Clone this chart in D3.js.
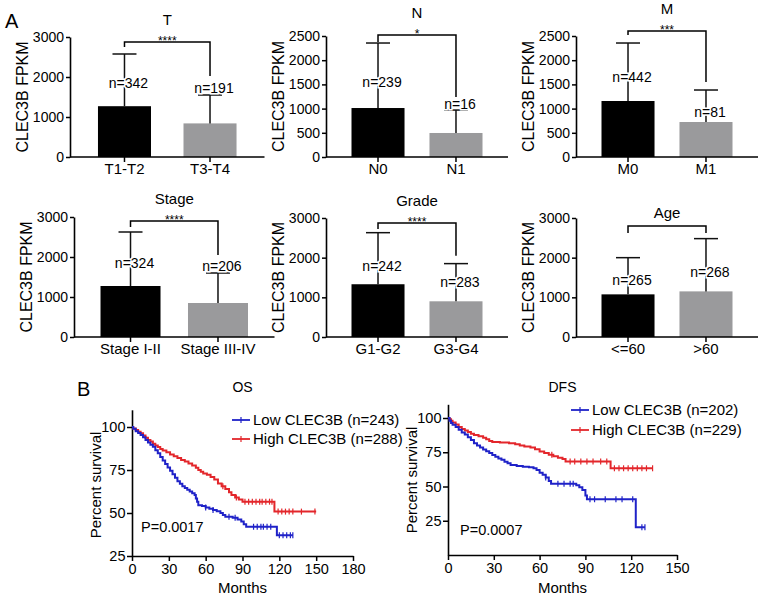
<!DOCTYPE html>
<html><head><meta charset="utf-8">
<script src="https://cdn.jsdelivr.net/npm/d3@7"></script>
<style>
body{margin:0;background:#fff}
svg{display:block}
text{font-family:"Liberation Sans",Arial,Helvetica,sans-serif;fill:#000}
</style>
</head><body>
<svg id="c" width="765" height="598"></svg>
<script>
// ---------- Panel A data ----------
const panelTitles = ["T","N","M","Stage","Grade","Age"];
const barCategories = [["T1-T2","T3-T4"],["N0","N1"],["M0","M1"],["Stage I-II","Stage III-IV"],["G1-G2","G3-G4"],["<=60",">60"]];
const barMeans = [[1270,840],[1012,496],[1157,723],[1275,850],[1330,900],[1075,1150]];
const barErrTops = [[2575,1550],[2355,970],[2355,1384],[2625,1600],[2630,1850],[2000,2480]];
const groupN = [[342,191],[239,16],[442,81],[324,206],[242,283],[265,268]];
const sigLabels = ["****","*","***","****","****",""];
const yMaxes = [3000,2500,2500,3000,3000,3000];
const yTickSteps = [1000,500,500,1000,1000,1000];
// bracket: [bar level, left end, right end] in FPKM units
const bracketLevels = [[2875,2750,2025],[2520,2376,1240],[2603,2520,1550],[2900,2750,2050],[2875,2725,2050],[2800,2625,2625]];

// ---------- Panel B data (Kaplan-Meier steps: [month, percent]) ----------
const osLow = [[0,100],[1,99],[3,97.5],[5,96.5],[7,95.3],[9,94],[11,92.5],[13,91],[15,89.7],[17,88.5],[19,86.5],[21,84.7],[23,82.5],[25,80.5],[27,78.5],[29,76.5],[31,74.5],[33,72.5],[35,70.5],[37,68.5],[39,67],[41,65.5],[43,64.5],[45,63.5],[47,62.5],[49,61.5],[51,60.5],[52,58.5],[53,56.5],[54,54.5],[57,54],[60,53.2],[63,52.5],[66,51.8],[69,51],[72,50],[74,48.8],[76,47.8],[82,47.2],[86,46.2],[89,45],[91,43.5],[93,42],[118,37],[131,37]];
const osHigh = [[0,100],[1,99.2],[3,98.3],[5,97.2],[7,96.3],[9,95],[11,93.8],[13,92.5],[15,91.5],[17,90.3],[19,89.3],[21,88.3],[23,87.2],[25,86.3],[28,85.3],[31,84],[34,83],[37,82],[40,80.8],[43,80],[46,78.8],[49,77.6],[52,76.3],[54,75],[56,74],[58,73],[61,72.3],[64,71],[67,69.5],[70,67.2],[73,65.5],[76,64],[79,62],[81,60.5],[84,59],[87,57.8],[90,56.6],[116,50.8],[150,50.8]];
const osLowCensor = [60,66,79,84,99,102,105,107,110,113,120,123,126,129,131];
const osHighCensor = [74,85,92,95,98,101,104,106,109,112,114,119,122,125,128,131,138,149];
const dfsLow = [[0,100],[1,98],[2,96.3],[3,95],[5,93.5],[7,91.5],[9,89.5],[11,88],[13,86],[15,84],[17,81.5],[19,80],[21,78.5],[23,77],[25,75.8],[27,74.5],[29,73],[31,71.8],[33,70.5],[35,69.5],[37,68],[39,67],[41,65.7],[45,65],[49,64.5],[53,64],[56,63.3],[58,62],[60,60],[62,58.5],[64,56.5],[66,54],[67.5,52],[84,51],[86,49.5],[88,47.5],[90,43.5],[91,40.7],[123,20.3],[129,20.3]];
const dfsHigh = [[0,100],[1,99],[2,98],[3,96.8],[5,95.2],[7,93.5],[9,92],[11,90.8],[13,89.8],[15,88.5],[17,87.6],[20,86.6],[23,85.5],[25,84.4],[27,83.2],[29,82.5],[34,82.2],[40,81.6],[44,80.8],[47,80],[50,79.2],[54,78.4],[57,77.2],[60,75.5],[63,74.5],[66,73.2],[69,72],[72,71],[75,70],[77,68.2],[106.5,63.3],[134,63.3]];
const dfsLowCensor = [64,72,76,80,82,93,96,103,110,114,121,127,129];
const dfsHighCensor = [68,80,83,87,91,95,100,104,109,112,115,118,121,124,127,130,134];
const osLegend = ["Low CLEC3B (n=243)","High CLEC3B (n=288)"];
const dfsLegend = ["Low CLEC3B (n=202)","High CLEC3B (n=229)"];
const osXTicks = [0,30,60,90,120,150,180];
const dfsXTicks = [0,30,60,90,120,150];
const survYTicks = [25,50,75,100];

// ---------- layout ----------
const svg = d3.select("#c");
const FONT = '"Liberation Sans",Arial,Helvetica,sans-serif';
const BLUE = "#1f22c8", RED = "#e3262b";
const barLayout = [
  {ax:70,  w:194.5, top:37,  bot:157, pi:0.38,  po:0.327, nY:[83,88]},
  {ax:326, w:182,   top:36,  bot:157, pi:0.32,  po:0.327, nY:[82,104]},
  {ax:576, w:182,   top:36,  bot:157, pi:0.32,  po:0.327, nY:[77,112]},
  {ax:74,  w:200.5, top:217, bot:337, pi:0.314, po:0.303, nY:[263,266]},
  {ax:326, w:182,   top:218, bot:337, pi:0.32,  po:0.327, nY:[266,282]},
  {ax:576, w:182,   top:218, bot:337, pi:0.32,  po:0.327, nY:[280,272]}
];

function styleAxis(g, fs){
  g.attr("font-family", FONT).attr("font-size", fs);
  g.selectAll(".domain").attr("stroke","#000").attr("stroke-width",1.6);
  g.selectAll(".tick line").attr("stroke","#000").attr("stroke-width",1.5);
  g.selectAll(".tick text").attr("fill","#000");
}

barLayout.forEach((L,i) => {
  const g = svg.append("g");
  const x = d3.scaleBand().domain(barCategories[i]).range([L.ax, L.ax+L.w]).paddingInner(L.pi).paddingOuter(L.po);
  const y = d3.scaleLinear().domain([0, yMaxes[i]]).range([L.bot, L.top]);
  const bw = x.bandwidth();
  const cx = c => x(c) + bw/2;

  // bars
  g.selectAll("rect.bar").data(barCategories[i]).join("rect")
    .attr("x", c => x(c)).attr("width", bw)
    .attr("y", (c,j) => y(barMeans[i][j]))
    .attr("height", (c,j) => L.bot - y(barMeans[i][j]))
    .attr("fill", (c,j) => j === 0 ? "#000" : "#9a9a9c");
  // error bars
  barCategories[i].forEach((c,j) => {
    g.append("line").attr("x1", cx(c)).attr("x2", cx(c))
      .attr("y1", y(barMeans[i][j])).attr("y2", y(barErrTops[i][j]))
      .attr("stroke", "#111").attr("stroke-width", 1.5);
    g.append("line").attr("x1", cx(c)-12).attr("x2", cx(c)+12)
      .attr("y1", y(barErrTops[i][j])).attr("y2", y(barErrTops[i][j]))
      .attr("stroke", "#111").attr("stroke-width", 1.5);
  });
  // axes
  const ya = d3.axisLeft(y).tickValues(d3.range(0, yMaxes[i]+1, yTickSteps[i])).tickFormat(d3.format("d"))
    .tickSize(4).tickSizeOuter(0).tickPadding(2);
  styleAxis(g.append("g").attr("transform", `translate(${L.ax},0)`).call(ya), 14);
  const xa = d3.axisBottom(x).tickSize(5).tickSizeOuter(0).tickPadding(1.5);
  const xg = g.append("g").attr("transform", `translate(0,${L.bot})`).call(xa);
  styleAxis(xg, 15);
  xg.select(".domain").attr("d", `M${L.ax},0H${L.ax+L.w}`);

  // n labels
  barCategories[i].forEach((c,j) => {
    g.append("text").attr("x", cx(c)+4).attr("y", L.nY[j]+5)
      .attr("text-anchor","middle").attr("font-size",14)
      .attr("stroke","#fff").attr("stroke-width",3).attr("paint-order","stroke")
      .text("n=" + groupN[i][j]);
  });
  // bracket
  const b = bracketLevels[i];
  const xl = cx(barCategories[i][0]), xr = cx(barCategories[i][1]);
  g.append("path").attr("d", `M${xl},${y(b[1])}V${y(b[0])}H${xr}V${y(b[2])}`)
    .attr("fill","none").attr("stroke","#000").attr("stroke-width",1.5);
  if (sigLabels[i]) {
    g.append("text").attr("x", (xl+xr)/2).attr("y", y(b[0]) + 3)
      .attr("text-anchor","middle").attr("font-size",12).text(sigLabels[i]);
  }
  // title
  const ty = y(b[0]) - (sigLabels[i] ? 22 : 13);
  g.append("text").attr("x", (xl+xr)/2).attr("y", ty + 5)
    .attr("text-anchor","middle").attr("font-size",15).text(panelTitles[i]);
  // y label
  const my = (L.top + L.bot)/2;
  g.append("text").attr("transform", `translate(${L.ax-48},${my}) rotate(-90)`)
    .attr("dy","0.35em").attr("text-anchor","middle").attr("font-size",16).text("CLEC3B FPKM");
});

// panel letters
svg.append("text").attr("x",5).attr("y",28).attr("font-size",20).text("A");
svg.append("text").attr("x",77).attr("y",396).attr("font-size",20).text("B");

// ---------- KM plots ----------
function stepValue(curve, t){
  let v = curve[0][1];
  for (const p of curve) { if (p[0] <= t) v = p[1]; else break; }
  return v;
}
function kmPanel(opt){
  const g = svg.append("g");
  const x = d3.scaleLinear().domain(opt.xDom).range(opt.xRange);
  const y = d3.scaleLinear().domain(opt.yDom).range(opt.yRange);
  const xa = d3.axisBottom(x).tickValues(opt.xTicks).tickSize(5).tickSizeOuter(0).tickPadding(3);
  styleAxis(g.append("g").attr("transform",`translate(0,${opt.yRange[0]})`).call(xa), 14.5);
  const ya = d3.axisLeft(y).tickValues(survYTicks).tickSize(5).tickSizeOuter(0).tickPadding(1.5);
  styleAxis(g.append("g").attr("transform",`translate(${opt.xRange[0]},0)`).call(ya), 14.5);

  const line = d3.line().x(d => x(d[0])).y(d => y(d[1])).curve(d3.curveStepAfter);
  const series = [[opt.high, opt.highC, RED],[opt.low, opt.lowC, BLUE]];
  series.forEach(([curve, cens, col]) => {
    g.append("path").attr("d", line(curve)).attr("fill","none")
      .attr("stroke", col).attr("stroke-width", 2);
    g.selectAll(null).data(cens).join("line")
      .attr("x1", t => x(t)).attr("x2", t => x(t))
      .attr("y1", t => y(stepValue(curve,t)) - 3).attr("y2", t => y(stepValue(curve,t)) + 3)
      .attr("stroke", col).attr("stroke-width", 1.2);
  });
  // legend
  [[opt.legend[0], BLUE, opt.legY[0]],[opt.legend[1], RED, opt.legY[1]]].forEach(([t,col,ly]) => {
    g.append("line").attr("x1",opt.legX).attr("x2",opt.legX+18).attr("y1",ly).attr("y2",ly)
      .attr("stroke",col).attr("stroke-width",1.8);
    g.append("line").attr("x1",opt.legX+9).attr("x2",opt.legX+9).attr("y1",ly-3).attr("y2",ly+3)
      .attr("stroke",col).attr("stroke-width",1.2);
    g.append("text").attr("x",opt.legX+21).attr("y",ly+5).attr("font-size",15).text(t);
  });
  g.append("text").attr("x",(opt.xRange[0]+opt.xRange[1])/2).attr("y",392)
    .attr("text-anchor","middle").attr("font-size",14).text(opt.title);
  g.append("text").attr("x",(opt.xRange[0]+opt.xRange[1])/2).attr("y",593)
    .attr("text-anchor","middle").attr("font-size",15).text("Months");
  g.append("text").attr("transform",`translate(${opt.xRange[0]-36},${opt.labY}) rotate(-90)`)
    .attr("dy","0.35em").attr("text-anchor","middle").attr("font-size",15).text("Percent survival");
  g.append("text").attr("x",opt.pX).attr("y",opt.pY).attr("font-size",14.5).text(opt.pText);
}

kmPanel({xDom:[0,180], xRange:[132,353], yDom:[25,110], yRange:[556,409.8], xTicks:osXTicks,
  low:osLow, high:osHigh, lowC:osLowCensor, highC:osHighCensor,
  legend:osLegend, legX:232, legY:[420,439], title:"OS", labY:485, pX:141, pY:532, pText:"P=0.0017"});
kmPanel({xDom:[0,150], xRange:[448,677], yDom:[0,110], yRange:[555,404.3], xTicks:dfsXTicks,
  low:dfsLow, high:dfsHigh, lowC:dfsLowCensor, highC:dfsHighCensor,
  legend:dfsLegend, legX:571, legY:[410,430], title:"DFS", labY:480, pX:460, pY:535, pText:"P=0.0007"});
</script>
</body></html>
